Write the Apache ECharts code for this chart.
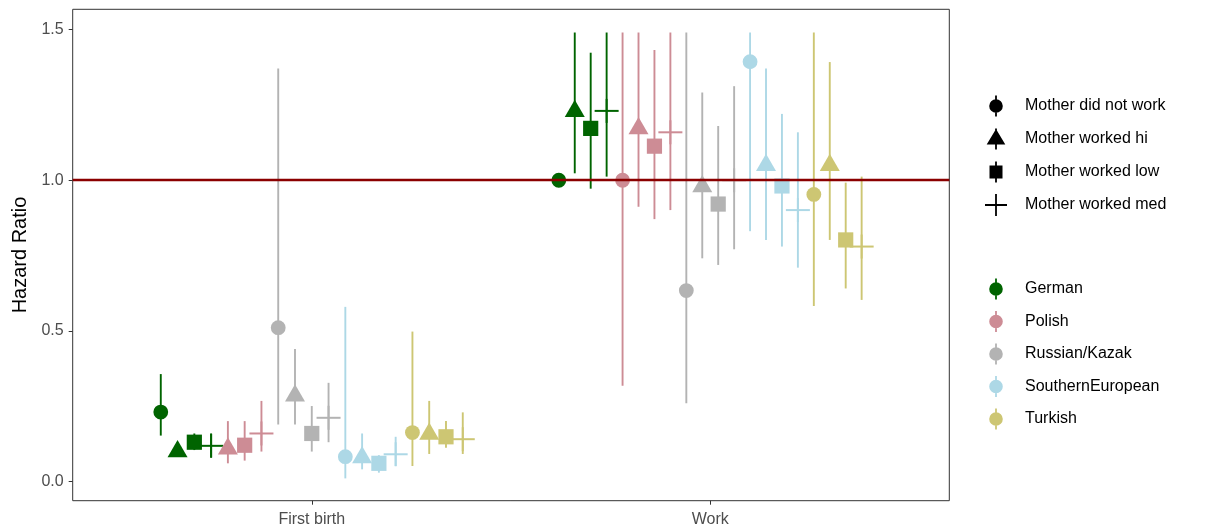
<!DOCTYPE html>
<html>
<head>
<meta charset="utf-8">
<script src="https://cdn.jsdelivr.net/npm/echarts@6/dist/echarts.min.js"></script>
<style>
  html, body { margin: 0; padding: 0; background: #fff; }
  #chart { width: 1205px; height: 529px; }
</style>
</head>
<body>
<div id="chart"></div>
<script>
// ---- data ----
const categories = ['First birth', 'Work'];
const ethnicGroups = ['German', 'Polish', 'Russian/Kazak', 'SouthernEuropean', 'Turkish'];
const motherGroups = ['Mother did not work', 'Mother worked hi', 'Mother worked low', 'Mother worked med'];
const ethnicColors = ['#006400', '#CD8C95', '#B3B3B3', '#ADD8E6', '#CDC673'];
const yTickValues = [0, 0.5, 1.0, 1.5];

// rows: ethnic group; columns: mother group (did not work, hi, low, med)
const firstBirthEst = [
  [0.231, 0.100, 0.131, 0.119],
  [null,  0.109, 0.121, 0.160],
  [0.511, 0.285, 0.160, 0.212],
  [0.083, 0.080, 0.061, 0.091],
  [0.163, 0.158, 0.149, 0.141]
];
const firstBirthLow = [
  [0.153, 0.085, 0.105, 0.081],
  [null,  0.061, 0.070, 0.100],
  [0.190, 0.190, 0.100, 0.131],
  [0.011, 0.041, 0.030, 0.052],
  [0.052, 0.092, 0.113, 0.092]
];
const firstBirthHigh = [
  [0.357, 0.130, 0.160, 0.160],
  [null,  0.201, 0.201, 0.268],
  [1.371, 0.440, 0.251, 0.328],
  [0.580, 0.160, 0.088, 0.149],
  [0.498, 0.268, 0.201, 0.230]
];
const workEst = [
  [1.000, 1.229, 1.172, 1.230],
  [1.000, 1.172, 1.113, 1.159],
  [0.634, 0.979, 0.921, 1.000],
  [1.393, 1.050, 0.981, 0.901],
  [0.953, 1.050, 0.802, 0.780]
];
const workLow = [
  [null,  1.023, 0.972, 1.012],
  [0.318, 0.912, 0.871, 0.901],
  [0.260, 0.741, 0.719, 0.771],
  [0.831, 0.802, 0.780, 0.710],
  [0.583, 0.802, 0.641, 0.603]
];
const workHigh = [
  [null,  1.490, 1.423, 1.490],
  [1.490, 1.490, 1.432, 1.490],
  [1.490, 1.291, 1.180, 1.312],
  [1.490, 1.371, 1.220, 1.159],
  [1.490, 1.392, 0.992, 1.012]
];
const referenceLine = 1.0;

// ---- build dodged data ----
const estByCat = [firstBirthEst, workEst];
const lowByCat = [firstBirthLow, workLow];
const highByCat = [firstBirthHigh, workHigh];
const dodgeWidth = 0.8;
const seriesData = ethnicGroups.map(() => []);
estByCat.forEach((est, c) => {
  const present = [];
  est.forEach((row, e) => row.forEach((v, m) => { if (v != null) present.push([e, m]); }));
  const n = present.length;
  present.forEach(([e, m], i) => {
    const x = (c + 1) - dodgeWidth / 2 + (i + 0.5) * dodgeWidth / n;
    const lo = lowByCat[c][e][m], hi = highByCat[c][e][m];
    seriesData[e].push([x, est[e][m], lo == null ? '-' : lo, hi == null ? '-' : hi, m]);
  });
});

function renderItem(params, api) {
  const x = api.value(0), est = api.value(1), lo = api.value(2), hi = api.value(3), m = api.value(4);
  const color = api.visual('color');
  const p = api.coord([x, est]);
  const children = [];
  if (!isNaN(lo) && !isNaN(hi)) {
    const a = api.coord([x, lo]), b = api.coord([x, hi]);
    children.push({ type: 'line', shape: { x1: a[0], y1: a[1], x2: b[0], y2: b[1] },
      style: { stroke: color, lineWidth: 1.9 } });
  }
  const cx = p[0], cy = p[1];
  if (m === 0) {
    children.push({ type: 'circle', shape: { cx, cy, r: 7.4 }, style: { fill: color } });
  } else if (m === 1) {
    const r = 11.5, xc = 10;
    children.push({ type: 'polygon', shape: { points: [[cx, cy - r], [cx + xc, cy + r / 2], [cx - xc, cy + r / 2]] },
      style: { fill: color } });
  } else if (m === 2) {
    const s = 7.6;
    children.push({ type: 'rect', shape: { x: cx - s, y: cy - s, width: 2 * s, height: 2 * s }, style: { fill: color } });
  } else {
    const h = 12;
    children.push({ type: 'line', shape: { x1: cx - h, y1: cy, x2: cx + h, y2: cy }, style: { stroke: color, lineWidth: 2 } });
    children.push({ type: 'line', shape: { x1: cx, y1: cy - h, x2: cx, y2: cy + h }, style: { stroke: color, lineWidth: 2 } });
  }
  return { type: 'group', children };
}

const corners = 'M0 0 L0.01 0 L0 0.01 Z M22 22 L21.99 22 L22 21.99 Z ';
const vline = 'M10.1 0.5 L11.9 0.5 L11.9 21.5 L10.1 21.5 Z ';
const iconCircle = 'path://' + corners + vline + 'M4.2 11 A6.8 6.8 0 1 1 17.8 11 A6.8 6.8 0 1 1 4.2 11 Z';
const iconTriangle = 'path://' + corners + vline + 'M11 1 L20.3 16.6 L1.7 16.6 Z';
const iconSquare = 'path://' + corners + vline + 'M4.5 4.5 L17.5 4.5 L17.5 17.5 L4.5 17.5 Z';
const iconCross = 'path://' + corners + 'M10.1 0 L11.9 0 L11.9 22 L10.1 22 Z M0 10.1 L22 10.1 L22 11.9 L0 11.9 Z';
const shapeIcons = [iconCircle, iconTriangle, iconSquare, iconCross];

const series = ethnicGroups.map((name, e) => ({
  name, type: 'custom', renderItem, data: seriesData[e],
  itemStyle: { color: ethnicColors[e] },
  encode: { x: 0, y: [1, 2, 3] }, z: 2
}));
motherGroups.forEach(name => series.push({ name, type: 'scatter', data: [], itemStyle: { color: '#000', opacity: 1 } }));
series.push({
  type: 'line', data: [], z: 10, silent: true,
  markLine: { silent: true, symbol: 'none', animation: false, label: { show: false },
    lineStyle: { color: '#8B0000', width: 2.3, type: 'solid' },
    data: [{ yAxis: referenceLine }] }
});

const legendText = { fontSize: 16, color: '#000', fontFamily: 'Liberation Sans, Arial, sans-serif', padding: [0, 0, 0, 13] };
const option = {
  animation: false,
  backgroundColor: '#fff',
  grid: { left: 72.7, right: 255.7, top: 9.3, bottom: 28.3, show: true, borderColor: '#333', borderWidth: 1, backgroundColor: '#fff' },
  xAxis: {
    type: 'value', min: 0.4, max: 2.6,
    axisLine: { show: false, onZero: false },
    splitLine: { show: false },
    axisTick: { show: true, customValues: [1, 2], length: 4, lineStyle: { color: '#333' } },
    axisLabel: { customValues: [1, 2], formatter: v => categories[Math.round(v) - 1], fontSize: 16, color: '#4D4D4D',
      margin: 11, fontFamily: 'Liberation Sans, Arial, sans-serif' }
  },
  yAxis: {
    type: 'value', min: -0.063, max: 1.567,
    name: 'Hazard Ratio', nameLocation: 'middle', nameGap: 42,
    nameTextStyle: { fontSize: 20, color: '#000', fontFamily: 'Liberation Sans, Arial, sans-serif' },
    axisLine: { show: false, onZero: false },
    splitLine: { show: false },
    axisTick: { show: true, customValues: yTickValues, length: 4, lineStyle: { color: '#333' } },
    axisLabel: { customValues: yTickValues, formatter: v => v.toFixed(1), fontSize: 16, color: '#4D4D4D',
      margin: 9, fontFamily: 'Liberation Sans, Arial, sans-serif' }
  },
  legend: [
    { orient: 'vertical', left: 985, top: 95, padding: 0, itemWidth: 22, itemHeight: 22, itemGap: 11,
      data: motherGroups.map((name, i) => ({ name, icon: shapeIcons[i] })), textStyle: legendText, selectedMode: false },
    { orient: 'vertical', left: 985, top: 278, padding: 0, itemWidth: 22, itemHeight: 22, itemGap: 10.5,
      data: ethnicGroups.map(name => ({ name, icon: iconCircle })), textStyle: legendText }
  ],
  series
};
const chart = echarts.init(document.getElementById('chart'), null, { renderer: 'canvas' });
chart.setOption(option);
</script>
</body>
</html>
